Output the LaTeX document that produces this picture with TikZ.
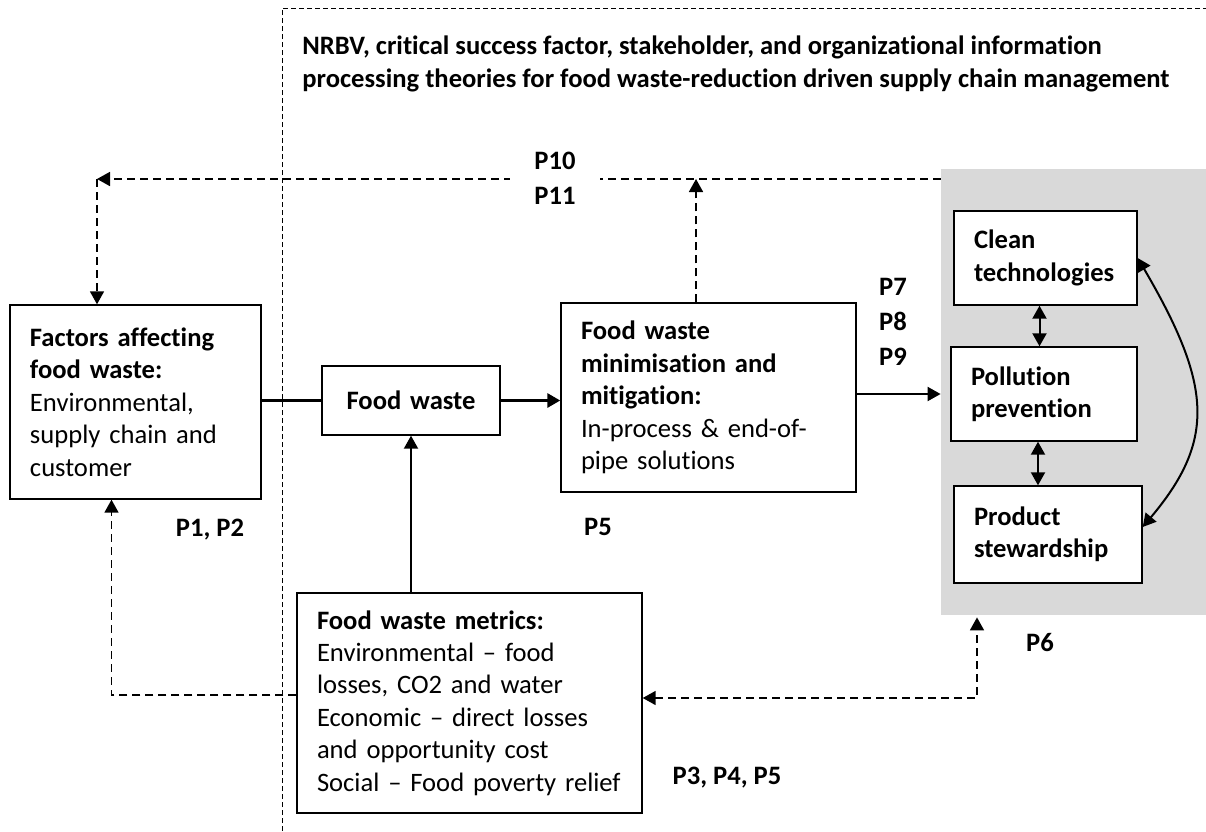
\documentclass[tikz,border=0pt]{standalone}
\usepackage{fontspec}
\setmainfont{Carlito}[Ligatures=NoCommon]
\usetikzlibrary{arrows.meta}

\definecolor{panelgrey}{RGB}{217,217,217}
\newcommand{\basefont}{\fontsize{13.3}{16.2}\selectfont}

\tikzset{
  box/.style={draw,line width=0.7pt,fill=white,inner xsep=10pt,inner ysep=0pt,
    text width=#1,align=left,font=\basefont},
  plabel/.style={inner sep=0pt,align=left,font=\basefont\bfseries},
  frame/.style={line width=0.4pt,dash pattern=on 2.5pt off 1.5pt},
  tip/.style={-{Triangle[length=6.5pt,width=7pt]}},
  solidarrow/.style={line width=1pt,tip},
  bothway/.style={line width=1pt,{Triangle[length=6.5pt,width=7pt]}-{Triangle[length=6.5pt,width=7pt]}},
  dsharrow/.style={line width=0.85pt,dash pattern=on 4pt off 2.5pt,tip},
  dshboth/.style={line width=0.85pt,dash pattern=on 4pt off 2.5pt,
    {Triangle[length=6.5pt,width=7pt]}-{Triangle[length=6.5pt,width=7pt]}}
}

\begin{document}
\begin{tikzpicture}[x=0.5pt,y=-0.5pt]
\useasboundingbox (0,0) rectangle (1206,831);

% theories frame
\draw[frame] (282,831) |- (1206,8);
\node[anchor=west,align=left,inner sep=0pt,
  font=\bfseries\fontsize{13.3}{16.5}\selectfont] (theories) at (302,63.5)
  {NRBV, critical success factor, stakeholder, and organizational information\\
   processing theories for food waste-reduction driven supply chain management};

% grey panel
\node[fill=panelgrey,minimum width=132.5pt,minimum height=223pt,inner sep=0pt] (panel) at (1073.5,392) {};

% boxes
\node[box=105.5pt,minimum height=97pt] (factors) at (135.5,402)
  {\textbf{Factors affecting}\\\textbf{food waste:}\\Environmental,\\supply chain and\\customer};
\node[box=69pt,minimum height=34.5pt,align=center] (waste) at (411,400.5) {\textbf{Food waste}};
\node[box=127.5pt,minimum height=94.5pt] (minimise) at (708.5,397.5)
  {\textbf{Food waste}\\\textbf{minimisation and}\\\textbf{mitigation:}\\In-process \& end-of-\\pipe solutions};
\node[box=152.5pt,minimum height=110pt] (metrics) at (469.5,703)
  {\textbf{Food waste metrics:}\\Environmental -- food\\losses, CO2 and water\\Economic -- direct losses\\and opportunity cost\\Social -- Food poverty relief};
\node[box=71.5pt,minimum height=47pt] (clean) at (1045.5,258) {\textbf{Clean}\\\textbf{technologies}};
\node[box=73pt,minimum height=47pt] (pollution) at (1044,394) {\textbf{Pollution}\\\textbf{prevention}};
\node[box=74pt,minimum height=48.5pt] (product) at (1048,534.5) {\textbf{Product}\\\textbf{stewardship}};

% solid links
\draw[line width=1.5pt] (factors.east |- waste.west) -- (waste.west);
\draw[solidarrow,line width=1.5pt] (waste.east) -- (minimise.west |- waste.east);
\draw[solidarrow] (minimise.east |- pollution.west) -- (panel.west |- pollution.west);
\draw[solidarrow] (metrics.north -| waste.south) -- (waste.south);
\draw[bothway] ([xshift=-3pt]clean.south) -- ([xshift=-3pt]clean.south |- pollution.north);
\draw[bothway] ([xshift=-3pt]pollution.south) -- ([xshift=-3pt]pollution.south |- product.north);
\draw[bothway] (clean.east) .. controls (1212,385) and (1216,440) .. ([yshift=3.75pt]product.east);

% dashed feedback
\coordinate (turn) at (97,179);
\draw[dsharrow] (panel.west |- turn) -- (turn);
\draw[dsharrow] (turn) -- (turn |- factors.north);
\draw[dsharrow] ([xshift=-6.25pt]minimise.north) -- ([xshift=-6.25pt]minimise.north |- turn);
\node[fill=white,minimum width=45pt,inner sep=0pt,align=center,
  font=\basefont\bfseries\fontsize{13.3}{17.5}\selectfont] (p1011) at (555,178) {P10\\P11};
\draw[dsharrow] ([yshift=4pt]metrics.west) -| ([xshift=-12pt]factors.south);
\draw[dshboth] ([yshift=2.5pt]metrics.east) -| ([xshift=-48.25pt,yshift=-1pt]panel.south);

% propositions
\node[plabel] (p12) at (210,530) {P1, P2};
\node[plabel] (p5) at (598,527) {P5};
\node[plabel] (p345) at (727,778) {P3, P4, P5};
\node[plabel] (p6) at (1040,643) {P6};
\node[plabel,font=\basefont\bfseries\fontsize{13.3}{17.5}\selectfont] (p789) at (893,322) {P7\\P8\\P9};
\end{tikzpicture}
\end{document}
